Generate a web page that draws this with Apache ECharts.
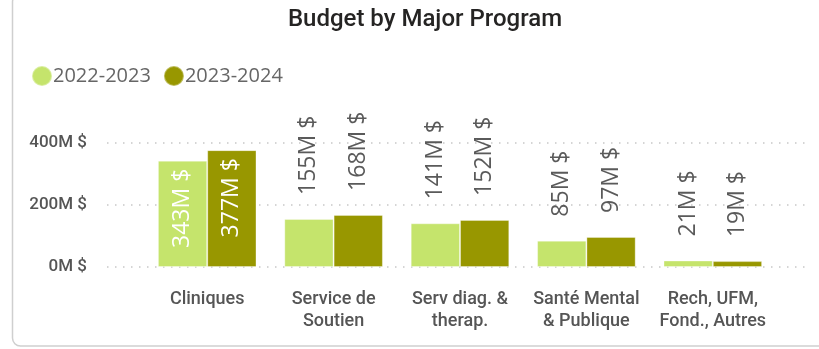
<!DOCTYPE html>
<html>
<head>
<meta charset="utf-8">
<script src="https://cdn.jsdelivr.net/npm/echarts@6/dist/echarts.min.js"></script>
<style>
  html, body { margin: 0; padding: 0; background: #fff; }
  #chart { width: 819px; height: 349px; }
</style>
</head>
<body>
<div id="chart"></div>
<script>
// Budget per program, in millions of dollars
const categories = [
  'Cliniques',
  'Service de\nSoutien',
  'Serv diag. &\ntherap.',
  'Santé Mental\n& Publique',
  'Rech, UFM,\nFond., Autres'
];
const seriesNames = ['2022-2023', '2023-2024'];
const budget2022 = [343, 155, 141, 85, 21];
const budget2023 = [377, 168, 152, 97, 19];
const yTicks = [0, 200, 400];

const colors = ['#C5E46C', '#989700'];
const FONT = '"Open Sans", "Noto Sans", sans-serif';
const AXIS_FONT = 'Roboto, "Open Sans", sans-serif';

// Labels sit inside tall bars, above the others
function buildData(values) {
  return values.map(v => {
    if (v > 300) {
      return {
        value: v,
        label: {
          position: 'insideTop',
          align: 'right',
          distance: 8,
          color: '#ffffff'
        }
      };
    }
    return v;
  });
}

function makeSeries(name, values, color) {
  return {
    name: name,
    type: 'bar',
    xAxisIndex: 1,
    yAxisIndex: 1,
    data: buildData(values),
    barGap: '0%',
    barCategoryGap: '22%',
    itemStyle: { color: color, borderColor: 'rgba(255,255,255,0.35)', borderWidth: 1 },
    label: {
      show: true,
      position: 'top',
      rotate: 90,
      align: 'left',
      verticalAlign: 'middle',
      distance: 24,
      fontFamily: FONT,
      fontSize: 23,
      color: '#5a5a5a',
      formatter: p => p.value + 'M $'
    }
  };
}

const chart = echarts.init(document.getElementById('chart'), null, { renderer: 'canvas' });
chart.setOption({
  animation: false,
  backgroundColor: '#ffffff',
  graphic: [{
    type: 'rect',
    shape: { x: 12.5, y: -6, width: 830, height: 352, r: 8 },
    style: { fill: 'none', stroke: '#cfcfcf', lineWidth: 1.5 },
    z: -1
  }],
  title: {
    text: 'Budget by Major Program',
    left: 420,
    textAlign: 'center',
    top: 3,
    textStyle: { fontFamily: AXIS_FONT, fontSize: 24, fontWeight: 500, color: '#252423' }
  },
  legend: {
    left: 26,
    top: 60,
    icon: 'circle',
    itemWidth: 20,
    itemHeight: 20,
    itemGap: 12,
    textStyle: { fontFamily: FONT, fontSize: 20, color: '#666666', padding: [0, 0, 0, -4] },
    data: seriesNames
  },
  grid: [
    { left: 107, right: 9, top: 143, bottom: 82 },
    { left: 144, right: 43, top: 143, bottom: 82 }
  ],
  xAxis: [
    { type: 'category', gridIndex: 0, data: categories, show: false },
    {
      type: 'category',
      gridIndex: 1,
      data: categories,
      axisLine: { show: false },
      axisTick: { show: false },
      axisLabel: {
        margin: 21,
        fontFamily: AXIS_FONT,
        fontSize: 18,
        fontWeight: 500,
        lineHeight: 22,
        color: '#555555',
        interval: 0
      }
    }
  ],
  yAxis: [
    {
      type: 'value',
      gridIndex: 0,
      min: yTicks[0],
      max: yTicks[yTicks.length - 1],
      interval: yTicks[1] - yTicks[0],
      axisLine: { show: false },
      axisTick: { show: false },
      axisLabel: {
        margin: 20,
        fontFamily: AXIS_FONT,
        fontSize: 17,
        fontWeight: 500,
        color: '#555555',
        formatter: '{value}M $'
      },
      splitLine: { lineStyle: { color: '#c8c8c8', type: [1.5, 6.5], width: 1.5 } }
    },
    {
      type: 'value',
      gridIndex: 1,
      min: yTicks[0],
      max: yTicks[yTicks.length - 1],
      show: false,
      splitLine: { show: false }
    }
  ],
  series: [
    makeSeries(seriesNames[0], budget2022, colors[0]),
    makeSeries(seriesNames[1], budget2023, colors[1])
  ]
});
</script>
</body>
</html>
